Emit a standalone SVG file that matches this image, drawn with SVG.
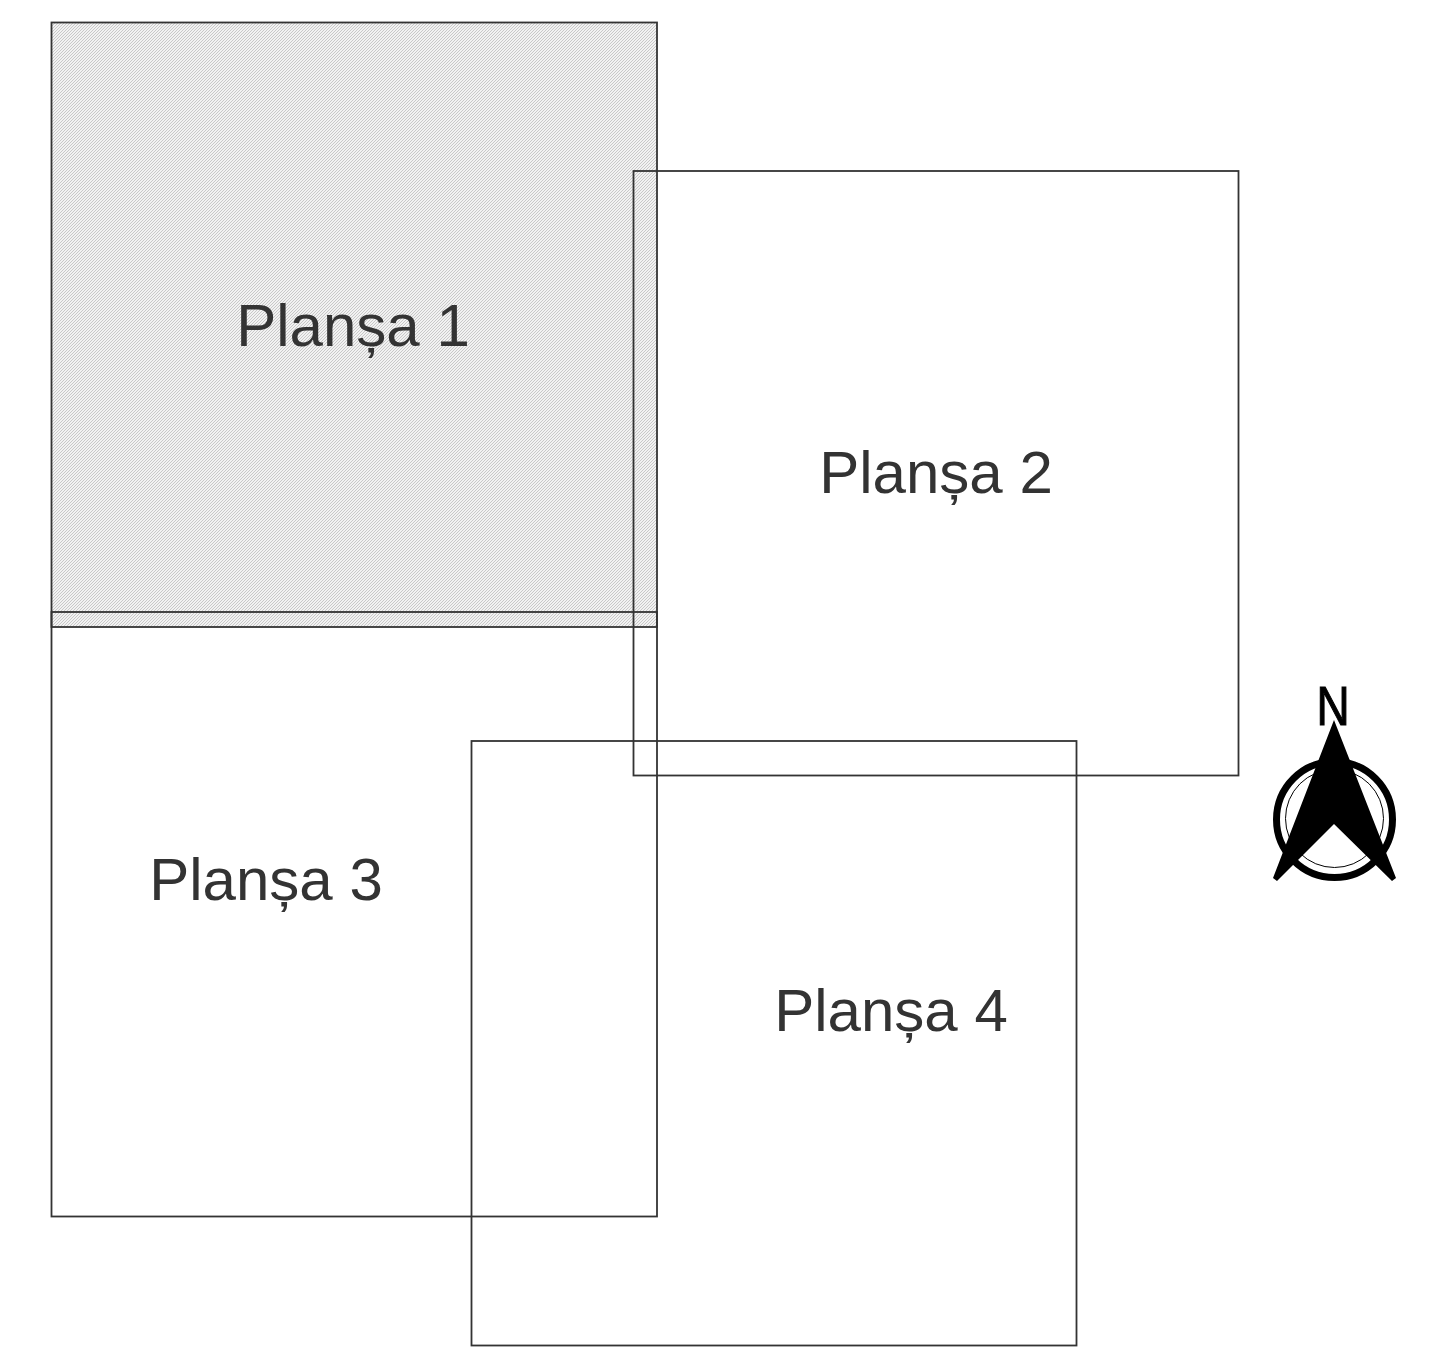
<svg xmlns="http://www.w3.org/2000/svg" width="1439" height="1367" viewBox="0 0 1439 1367">
<style>
.sheet{fill:none;stroke:#333;stroke-width:1.8}
.lbl{font-family:"Liberation Sans",Arial,sans-serif;font-size:60px;fill:#333;text-anchor:middle}
</style>
<defs>
<pattern id="hatch" width="3" height="3" patternUnits="userSpaceOnUse">
<rect width="3" height="3" fill="#f2f2f2"/>
<path d="M-1 4L4 -1M-1 1L1 -1M2 4L4 2" stroke="#c8c8c8" stroke-width="1" fill="none"/>
</pattern>
</defs>
<rect width="1439" height="1367" fill="#fff"/>
<g id="plansa-1"><rect x="51.5" y="22.5" width="605.5" height="604.5" fill="url(#hatch)" stroke="#333" stroke-width="1.8"/><text class="lbl" x="353" y="346">Planșa 1</text></g>
<g id="plansa-3"><rect class="sheet" x="51.5" y="612" width="605.5" height="604.5"/><text class="lbl" x="266" y="900">Planșa 3</text></g>
<g id="plansa-2"><rect class="sheet" x="633.5" y="171" width="605" height="604.5"/><text class="lbl" x="936" y="493">Planșa 2</text></g>
<g id="plansa-4"><rect class="sheet" x="471.5" y="741" width="605" height="604.5"/><text class="lbl" x="891" y="1031">Planșa 4</text></g>
<g id="north-arrow">
<circle cx="1334.5" cy="819.5" r="58" fill="#fff" stroke="#000" stroke-width="7"/>
<circle cx="1334.5" cy="818.5" r="49" fill="none" stroke="#000" stroke-width="1"/>
<path d="M1334 720L1396 878L1392 881L1334 824L1277 881L1273 878Z" fill="#000"/>
<text transform="translate(1333 724.5) scale(.82 1)" font-family="'Liberation Sans',Arial,sans-serif" font-size="56" text-anchor="middle" fill="#000" stroke="#000" stroke-width="1.2">N</text>
</g>
</svg>
